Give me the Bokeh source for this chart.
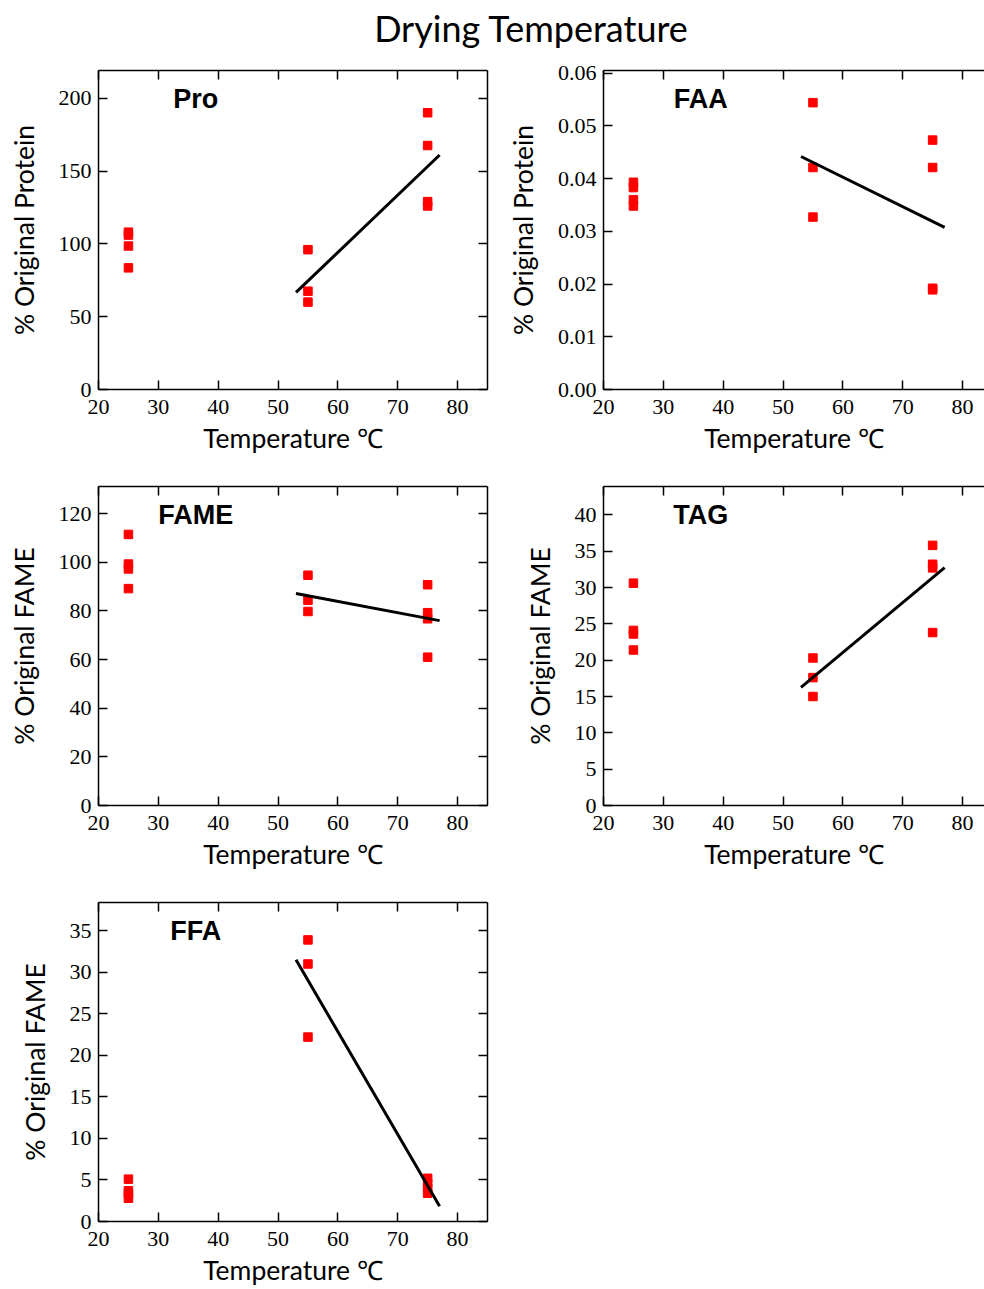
import numpy as np
from bokeh.plotting import figure
from bokeh.layouts import column, row
from bokeh.models import (Div, Label, LinearAxis, FixedTicker, NumeralTickFormatter,
                          BasicTickFormatter, CustomJSTickFormatter, Range1d)
from bokeh.embed import file_html
from bokeh.resources import INLINE

# Drying temperatures (°C) of the replicate samples, shared by every panel
temperature = [25, 25, 25, 25, 55, 55, 55, 75, 75, 75, 75]

# Measured response for each panel, same order as `temperature`
pro_pct = [108, 106, 98.5, 83.5, 96, 67.5, 60, 190, 167.5, 129, 126]
faa_pct = [0.0393, 0.0383, 0.0360, 0.0348, 0.0544, 0.0421, 0.0327, 0.0473, 0.0421, 0.0192, 0.0189]
fame_pct = [111.5, 99.3, 97.3, 89.2, 94.7, 84.4, 79.8, 90.8, 79.3, 76.8, 61.0]
tag_pct = [30.6, 24.1, 23.6, 21.4, 20.3, 17.6, 15.0, 35.8, 33.2, 32.7, 23.8]
ffa_pct = [5.1, 3.7, 3.3, 2.8, 33.9, 31.0, 22.2, 5.2, 4.6, 4.0, 3.4]

panel_names = ["Pro", "FAA", "FAME", "TAG", "FFA"]
y_titles = ["% Original Protein", "% Original Protein", "% Original FAME",
            "% Original FAME", "% Original FAME"]
y_max = [219, 0.0605, 131.2, 43.9, 38.4]
y_ticks = [[0, 50, 100, 150, 200],
           [0, 0.01, 0.02, 0.03, 0.04, 0.05, 0.06],
           [0, 20, 40, 60, 80, 100, 120],
           [0, 5, 10, 15, 20, 25, 30, 35, 40],
           [0, 5, 10, 15, 20, 25, 30, 35]]
x_ticks = [20, 30, 40, 50, 60, 70, 80]

# Heated samples (55 and 75 °C) get a least-squares trend line over this span
fit_temps = [55, 75]
fit_span = [53, 77]

TICK_FONT = "Liberation Serif"
LABEL_FONT = "Lato"
RED = "#ff0000"

X_LO, X_HI = 20, 85
FRAME_W, FRAME_H = 389, 319
RIGHT_FRAME_W = 381  # right column runs off the page edge


def blank_axis(ticks, tick_in):
    ax = LinearAxis(ticker=FixedTicker(ticks=ticks),
                    formatter=CustomJSTickFormatter(code="return ''"))
    ax.major_label_text_font_size = "0px"
    ax.major_label_standoff = 0
    ax.major_tick_in = tick_in
    ax.major_tick_out = 0
    ax.minor_tick_line_color = None
    ax.axis_line_width = 1.5
    ax.major_tick_line_width = 1.5
    ax.axis_line_color = "black"
    return ax


def panel(idx, values, right_col, top, bottom):
    fw = RIGHT_FRAME_W if right_col else FRAME_W
    x_hi = X_LO + fw * (X_HI - X_LO) / FRAME_W
    p = figure(frame_width=fw, frame_height=FRAME_H,
               x_range=Range1d(X_LO, x_hi), y_range=Range1d(0, y_max[idx]),
               output_backend="svg", toolbar_location=None,
               min_border_left=106 if right_col else 98,
               min_border_right=0 if right_col else 10,
               min_border_top=top, min_border_bottom=bottom,
               outline_line_color=None)
    p.grid.visible = False

    p.xaxis.ticker = FixedTicker(ticks=x_ticks)
    p.yaxis.ticker = FixedTicker(ticks=y_ticks[idx])
    if idx == 1:
        p.yaxis.formatter = NumeralTickFormatter(format="0.00")
    else:
        p.yaxis.formatter = BasicTickFormatter()
    for ax in (p.xaxis[0], p.yaxis[0]):
        ax.major_tick_in = 9
        ax.major_tick_out = 0
        ax.minor_tick_line_color = None
        ax.axis_line_width = 1.5
        ax.major_tick_line_width = 1.5
        ax.major_label_text_font = TICK_FONT
        ax.major_label_text_font_size = "22px"
        ax.major_label_text_color = "black"
        ax.axis_label_text_font = LABEL_FONT
        ax.axis_label_text_font_size = "26.5px"
        ax.axis_label_text_font_style = "normal"
        ax.axis_label_text_color = "black"
    p.xaxis.major_label_standoff = 10
    p.yaxis.major_label_standoff = 7
    p.xaxis.axis_label = "Temperature ℃"
    p.yaxis.axis_label = y_titles[idx]
    p.xaxis.axis_label_standoff = 5
    p.yaxis.axis_label_standoff = 16

    p.add_layout(blank_axis(x_ticks, 9), "above")
    if not right_col:
        p.add_layout(blank_axis(y_ticks[idx], 9), "right")

    p.scatter(temperature, values, marker="square", size=8.5,
              fill_color=RED, line_color=RED)

    t = np.array(temperature, dtype=float)
    v = np.array(values, dtype=float)
    sel = np.isin(t, fit_temps)
    slope, icpt = np.polyfit(t[sel], v[sel], 1)
    xs = np.array(fit_span, dtype=float)
    p.line(xs, slope * xs + icpt, line_color="black", line_width=3)

    p.add_layout(Label(x=X_LO + 0.25 * (X_HI - X_LO), y=0.91 * y_max[idx],
                       text=panel_names[idx], text_align="center",
                       text_baseline="middle", text_font="Liberation Sans",
                       text_font_style="bold", text_font_size="27px",
                       text_color="black"))
    return p


series = [pro_pct, faa_pct, fame_pct, tag_pct, ffa_pct]
p_pro = panel(0, series[0], False, 20, 72)
p_faa = panel(1, series[1], True, 20, 72)
p_fame = panel(2, series[2], False, 25, 72)
p_tag = panel(3, series[3], True, 25, 72)
p_ffa = panel(4, series[4], False, 25, 68)

title = Div(text=('<div style="box-sizing:border-box;width:984px;padding-left:78px;'
                  'margin-top:6px;text-align:center;font-family:Lato;'
                  'font-size:36px;line-height:44px;color:black;">'
                  'Drying Temperature</div>'),
            width=984, height=50, margin=(0, 0, 0, 0))

layout = column(title, row(p_pro, p_faa), row(p_fame, p_tag), row(p_ffa),
                spacing=0)

open("out.html", "w").write(file_html(layout, INLINE, title="Drying Temperature"))
